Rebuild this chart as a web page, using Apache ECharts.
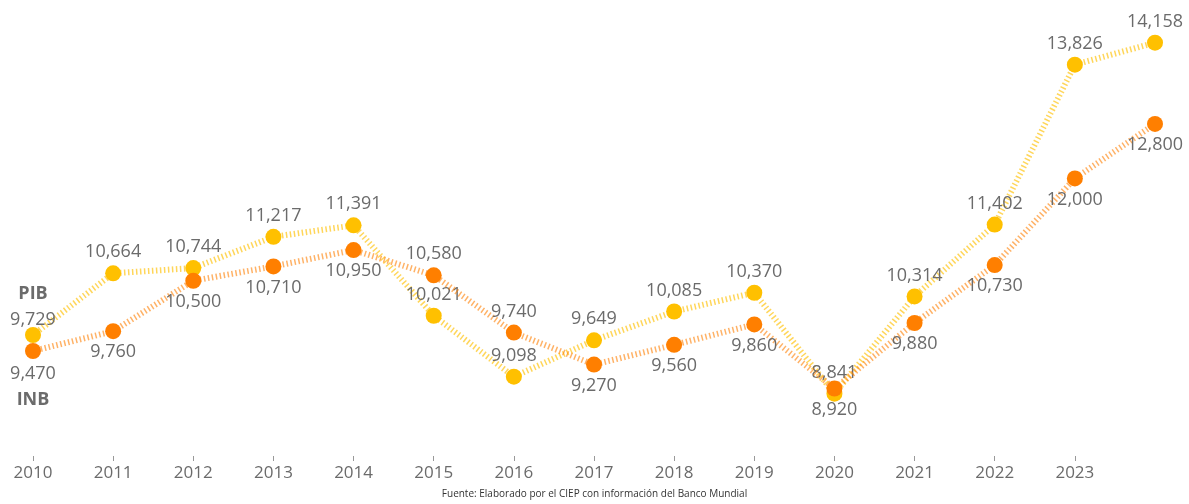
<!DOCTYPE html>
<html>
<head>
<meta charset="utf-8">
<script src="https://cdn.jsdelivr.net/npm/echarts@6/dist/echarts.min.js"></script>
<style>
  html, body { margin: 0; padding: 0; background: #fff; }
  #main { width: 1189px; height: 504px; }
</style>
</head>
<body>
<div id="main"></div>
<script>
"use strict";
// years (last point has no label on the axis)
var years = ['2010', '2011', '2012', '2013', '2014', '2015', '2016', '2017', '2018', '2019', '2020', '2021', '2022', '2023', ''];
var pib = [9729, 10664, 10744, 11217, 11391, 10021, 9098, 9649, 10085, 10370, 8841, 10314, 11402, 13826, 14158];
var inb = [9470, 9760, 10500, 10710, 10950, 10580, 9740, 9270, 9560, 9860, 8920, 9880, 10730, 12000, 12800];
// where the INB label sits for each point
var inbLabelPos = ['bottom', 'bottom', 'bottom', 'bottom', 'bottom', 'top', 'top', 'bottom', 'bottom', 'bottom', 'bottom', 'bottom', 'bottom', 'bottom', 'bottom'];

var grey = '#6b6b6b';
var fontFam = '"Open Sans", "Noto Sans", sans-serif';

function fmt(v) {
    return v.toLocaleString('en-US');
}

function pibData() {
    return pib.map(function(v, i) {
        var item = { value: v };
        if (i === 0) {
            item.label = {
                formatter: '{b|PIB}\n' + fmt(v),
                lineHeight: 26,
                offset: [0, 10]
            };
        }
        return item;
    });
}

function inbData() {
    return inb.map(function(v, i) {
        var item = { value: v, label: { position: inbLabelPos[i] } };
        if (i === 0) {
            item.label.formatter = fmt(v) + '\n{b|INB}';
            item.label.lineHeight = 26;
            item.label.offset = [0, -2];
        }
        return item;
    });
}

var labelStyle = {
    show: true,
    color: grey,
    fontSize: 18,
    fontFamily: fontFam,
    distance: 4,
    formatter: function(p) { return fmt(p.value); },
    rich: {
        b: { fontWeight: 'bold', fontSize: 18, color: grey, fontFamily: fontFam }
    }
};

var myChart = echarts.init(document.getElementById('main'));
var option = {
    animation: false,
    title: {
        text: 'Fuente: Elaborado por el CIEP con información del Banco Mundial',
        left: 'center',
        bottom: 0,
        textStyle: { fontSize: 10, fontWeight: 'normal', color: '#333', fontFamily: fontFam }
    },
    grid: { left: 33, right: 34, top: 21, bottom: 48 },
    xAxis: {
        type: 'category',
        boundaryGap: false,
        data: years,
        axisLine: { show: false },
        axisTick: {
            show: true, length: 5, lineStyle: { color: '#999' },
            interval: function(idx) { return idx < years.length - 1; }
        },
        axisLabel: { color: grey, fontSize: 17, fontFamily: fontFam, margin: 9, interval: 0 }
    },
    yAxis: [
        { type: 'value', min: 7896, max: 14487, show: false, splitLine: { show: false } },
        { type: 'value', min: 7930, max: 14309, show: false, splitLine: { show: false } }
    ],
    series: [
        {
            name: 'INB',
            type: 'line',
            yAxisIndex: 1,
            data: inbData(),
            symbol: 'circle',
            symbolSize: 16,
            itemStyle: { color: '#FF7F00' },
            lineStyle: { color: 'rgba(255,127,0,0.6)', width: 6, type: [1.5, 2.5] },
            label: Object.assign({}, labelStyle, { position: 'bottom' }),
            z: 3
        },
        {
            name: 'PIB',
            type: 'line',
            yAxisIndex: 0,
            data: pibData(),
            symbol: 'circle',
            symbolSize: 16,
            itemStyle: { color: '#FFC000' },
            lineStyle: { color: 'rgba(255,192,0,0.65)', width: 6, type: [1.5, 2.5] },
            label: Object.assign({}, labelStyle, { position: 'top' }),
            z: 2
        }
    ]
};
myChart.setOption(option);
</script>
</body>
</html>
